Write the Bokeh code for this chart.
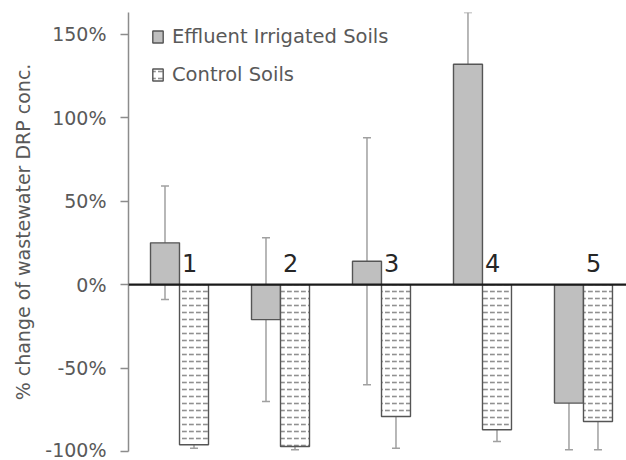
from bokeh.plotting import figure
from bokeh.models import ColumnDataSource, Whisker, Span, FixedTicker, Legend, LegendItem, Range1d
from bokeh.transform import dodge
from bokeh.core.properties import value
from bokeh.embed import file_html
from bokeh.resources import INLINE

# ---- data ----
sites = [1, 2, 3, 4, 5]
site_labels = ["1", "2", "3", "4", "5"]
effluent = [25, -21, 14, 132, -71]
effluent_hi = [59, 28, 88, 163, -44]
effluent_lo = [-9, -70, -60, 101, -99]
control = [-96, -97, -79, -87, -82]
control_hi = [-93, -91, -50, -80, -50]
control_lo = [-98, -99, -98, -94, -99]
y_ticks = [-100, -50, 0, 50, 100, 150]
y_tick_labels = ["-100%", "-50%", "0%", "50%", "100%", "150%"]
series_names = ["Effluent Irrigated Soils", "Control Soils"]

FONT = "DejaVu Sans"
src = ColumnDataSource(dict(x=sites, lab=site_labels, eff=effluent, eff_hi=effluent_hi, eff_lo=effluent_lo,
                            ctl=control, ctl_hi=control_hi, ctl_lo=control_lo, zero=[0] * len(sites)))

p = figure(width=626, height=460, output_backend="svg", toolbar_location=None,
           x_range=Range1d(0.495, 5.426), y_range=Range1d(-100, 163),
           min_border_left=128, min_border_right=0, min_border_top=12, min_border_bottom=9)
p.outline_line_color = None
p.xgrid.visible = False
p.ygrid.visible = False
p.xaxis.visible = False

off = 0.1436
bw = 0.287
r_eff = p.vbar(x=dodge("x", -off, range=p.x_range), top="eff", bottom=0, width=bw, source=src,
               fill_color="#bfbfbf", line_color="#555555", line_width=1.4)
r_ctl = p.vbar(x=dodge("x", off, range=p.x_range), top=0, bottom="ctl", width=bw, source=src,
               fill_color="white", line_color="#555555", line_width=1.4,
               hatch_pattern="horizontal_dash", hatch_color="#909090", hatch_scale=7, hatch_weight=1.6)

w1 = Whisker(source=src, base=dodge("x", -off, range=p.x_range), upper="eff_hi", lower="eff_lo",
             line_color="#a0a0a0", line_width=1.5)
w2 = Whisker(source=src, base=dodge("x", off, range=p.x_range), upper="ctl_hi", lower="ctl_lo",
             line_color="#a0a0a0", line_width=1.5)
for w in (w1, w2):
    w.upper_head.size = 8
    w.lower_head.size = 8
    w.upper_head.line_color = "#a0a0a0"
    w.lower_head.line_color = "#a0a0a0"
    w.upper_head.line_width = 1.5
    w.lower_head.line_width = 1.5
    p.add_layout(w)

p.add_layout(Span(location=0, dimension="width", line_color="#1a1a1a", line_width=2.2))

p.text(x=dodge("x", 0.1, range=p.x_range), y="zero", text="lab", source=src,
       text_font=value(FONT), text_font_size="24px", text_color="#262626",
       text_align="center", text_baseline="alphabetic", y_offset=-22)

ax = p.yaxis[0]
ax.ticker = FixedTicker(ticks=y_ticks)
ax.major_label_overrides = {t: l for t, l in zip(y_ticks, y_tick_labels)}
ax.minor_tick_line_color = None
ax.major_tick_in = 0
ax.major_tick_out = 8
ax.axis_line_color = "#8c8c8c"
ax.axis_line_width = 1.5
ax.major_tick_line_color = "#8c8c8c"
ax.major_tick_line_width = 1.5
ax.major_label_text_font = FONT
ax.major_label_text_font_size = "19px"
ax.major_label_text_color = "#595959"
ax.major_label_standoff = 14
ax.axis_label = "% change of wastewater DRP conc."
ax.axis_label_text_font = FONT
ax.axis_label_text_font_size = "19px"
ax.axis_label_text_font_style = "normal"
ax.axis_label_text_color = "#595959"
ax.axis_label_standoff = 8

legend = Legend(items=[LegendItem(label=series_names[0], renderers=[r_eff]),
                       LegendItem(label=series_names[1], renderers=[r_ctl])],
                location=(23, 365), orientation="vertical",
                background_fill_alpha=0, border_line_color=None,
                label_text_font=FONT, label_text_font_size="19.5px", label_text_color="#595959",
                glyph_width=13, glyph_height=15, label_height=20, spacing=15, padding=5, margin=0,
                label_standoff=8)
p.add_layout(legend)

open("out.html", "w").write(file_html(p, INLINE))
